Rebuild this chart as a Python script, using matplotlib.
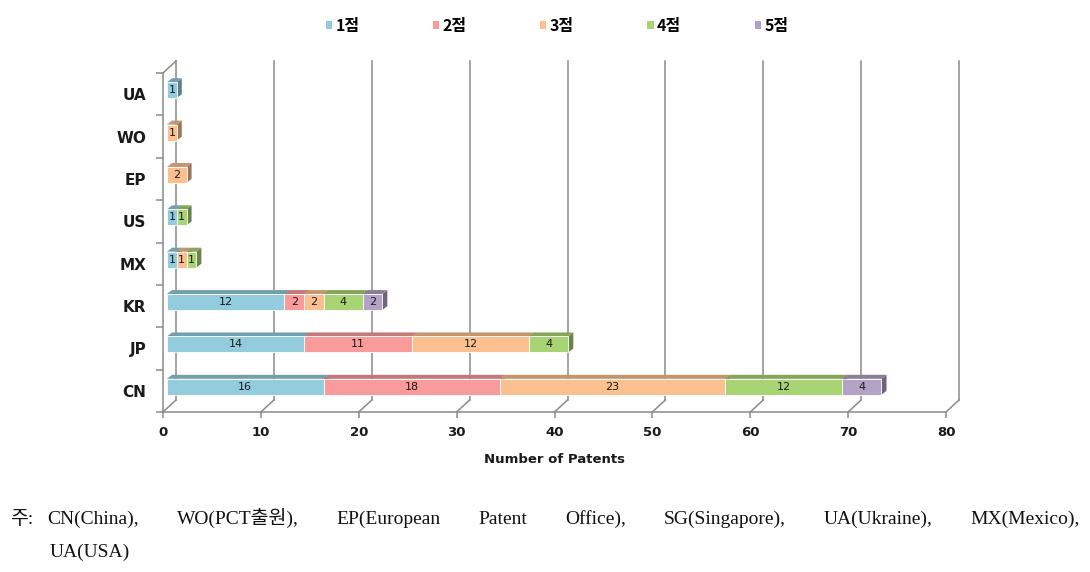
import matplotlib
matplotlib.use('Agg')
import matplotlib.pyplot as plt
import numpy as np
from matplotlib.patches import Polygon, Patch
from matplotlib.colors import to_rgb

# ---------------- data ----------------
categories = ['CN', 'JP', 'KR', 'MX', 'US', 'EP', 'WO', 'UA']
series_names = ['1점', '2점', '3점', '4점', '5점']
s1 = [16, 14, 12, 1, 1, 0, 0, 1]
s2 = [18, 11, 2, 0, 0, 0, 0, 0]
s3 = [23, 12, 2, 1, 0, 2, 1, 0]
s4 = [12, 4, 4, 1, 1, 0, 0, 0]
s5 = [4, 0, 2, 0, 0, 0, 0, 0]
x_ticks = [0, 10, 20, 30, 40, 50, 60, 70, 80]
x_label = 'Number of Patents'
note_head = '주:'
note_line1 = ('CN(China), WO(PCT출원), EP(European Patent Office), SG(Singapore), '
              'UA(Ukraine), MX(Mexico),')
note_line2 = 'UA(USA)'

series = [s1, s2, s3, s4, s5]
colors = ['#93CDDD', '#F99B9B', '#FAC090', '#A9D474', '#B3A2C7']
grid_c = '#8A8A8A'

W, H = 1090, 572
fig = plt.figure(figsize=(W / 100, H / 100), dpi=100)
fig.patch.set_facecolor('white')
ax = fig.add_axes([163 / W, 1 - 412 / H, 783 / W, 339 / H])
ax.set_facecolor('none')
y_lo, y_hi = -0.5, len(categories) - 0.5
ax.set_xlim(x_ticks[0], x_ticks[-1])
ax.set_ylim(y_lo, y_hi)


def px2data(dx, dy):
    p0 = ax.transData.transform((0, 0))
    q = ax.transData.inverted().transform((p0[0] + dx, p0[1] + dy))
    return q[0], q[1]


wx, wy = px2data(13, 12)     # back wall offset
bx, by = px2data(4, 4)       # bar front plane offset
dx, dy = px2data(5, 4)       # bar depth
bh = px2data(0, 16)[1]       # bar height

# back wall gridlines + floor diagonals
for xv in x_ticks:
    ax.plot([xv + wx, xv + wx], [y_lo + wy, y_hi + wy], color=grid_c, lw=1.1,
            clip_on=False, zorder=1)
    ax.plot([xv, xv + wx], [y_lo, y_lo + wy], color=grid_c, lw=1.1,
            clip_on=False, zorder=1)
ax.plot([0, wx], [y_hi, y_hi + wy], color=grid_c, lw=1.1, clip_on=False, zorder=1)


def shade(c, f):
    r, g, b = to_rgb(c)
    return (r * f, g * f, b * f)


for i in range(len(categories)):
    left = 0
    for j, s in enumerate(series):
        v = s[i]
        if v == 0:
            continue
        c = colors[j]
        l = left + bx
        r = l + v
        yc = i + by
        yt = yc + bh / 2
        yb = yc - bh / 2
        z = 3 + j * 3
        ax.add_patch(Polygon([(r, yb), (r, yt), (r + dx, yt + dy), (r + dx, yb + dy)],
                             closed=True, facecolor=shade(c, 0.62), edgecolor='none',
                             zorder=z, clip_on=False))
        ax.add_patch(Polygon([(l, yt), (r, yt), (r + dx, yt + dy), (l + dx, yt + dy)],
                             closed=True, facecolor=shade(c, 0.78), edgecolor='none',
                             zorder=z + 1, clip_on=False))
        ax.barh(yc, v, left=l, height=bh, color=c, edgecolor='white', linewidth=0.6,
                zorder=z + 2, clip_on=False)
        ax.text(l + v / 2, yc, str(v), ha='center', va='center', fontsize=8,
                color='#1a1a1a', zorder=30)
        left += v

# axes styling
for sp in ['top', 'right']:
    ax.spines[sp].set_visible(False)
for sp in ['left', 'bottom']:
    ax.spines[sp].set_color(grid_c)
    ax.spines[sp].set_linewidth(1.1)
    ax.spines[sp].set_zorder(2)

ax.set_yticks(range(len(categories)))
ax.set_yticklabels(categories, fontsize=11, fontweight='bold', color='#1a1a1a')
ax.set_yticks(np.arange(y_lo, y_hi + 0.01, 1), minor=True)
ax.tick_params(axis='y', which='major', length=0, pad=12)
ax.tick_params(axis='y', which='minor', length=5, color=grid_c, width=1.1)
ax.set_xticks(x_ticks)
ax.set_xticklabels([str(t) for t in x_ticks], fontsize=9.5, fontweight='bold',
                   color='#1a1a1a')
ax.tick_params(axis='x', length=4, color=grid_c, width=1.1, pad=6)
ax.set_xlabel(x_label, fontsize=9.5, fontweight='bold', color='#1a1a1a')
ax.xaxis.set_label_coords(0.5, (412 - 453) / 339)

# legend
handles = [Patch(facecolor=c, edgecolor='none') for c in colors]
fig.legend(handles, series_names, loc='center', bbox_to_anchor=(557 / W, 1 - 26 / H),
           ncol=5, frameon=False,
           prop={'family': ['Noto Sans CJK KR', 'DejaVu Sans'], 'weight': 'bold', 'size': 11.5},
           handlelength=0.4, handleheight=0.4, handletextpad=0.2, columnspacing=4.6)

# footnote (justified first line)
fp = dict(family=['Liberation Serif', 'Noto Sans CJK KR'], size=14, color='#111111')
base1 = 1 - 524 / H
base2 = 1 - 557 / H
fig.text(10 / W, base1, note_head, va='baseline', ha='left', **fp)
renderer = fig.canvas.get_renderer()
words = note_line1.split()
texts = [fig.text(0, base1, w, va='baseline', ha='left', **fp) for w in words]
widths = [t.get_window_extent(renderer).width for t in texts]
x0, x1 = 47, 1080
gap = (x1 - x0 - sum(widths)) / (len(words) - 1)
xp = x0
for t, wdt in zip(texts, widths):
    t.set_position((xp / W, base1))
    xp += wdt + gap
fig.text(50 / W, base2, note_line2, va='baseline', ha='left', **fp)

fig.savefig('out.png', dpi=100, facecolor='white')
